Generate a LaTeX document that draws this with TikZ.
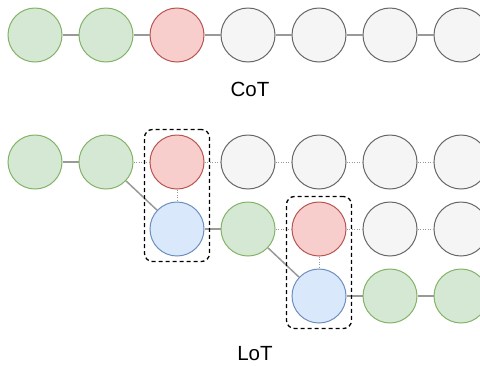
\documentclass[tikz,border=0pt]{standalone}
\usepackage{fontspec}
\setmainfont{Liberation Sans}
\usetikzlibrary{positioning}
\usetikzlibrary{fit}

\definecolor{donefill}{HTML}{D5E8D4}
\definecolor{donedraw}{HTML}{82B366}
\definecolor{nowfill}{HTML}{F8CECC}
\definecolor{nowdraw}{HTML}{B85450}
\definecolor{checkfill}{HTML}{DAE8FC}
\definecolor{checkdraw}{HTML}{6C8EBF}
\definecolor{todofill}{HTML}{F5F5F5}
\definecolor{tododraw}{HTML}{666666}

\begin{document}
\begin{tikzpicture}[x=1pt,y=-1pt,
	node distance=16pt,
	thought/.style={circle,draw,minimum size=54pt,inner sep=0pt,line width=1pt},
	done/.style={thought,fill=donefill,draw=donedraw},
	now/.style={thought,fill=nowfill,draw=nowdraw},
	check/.style={thought,fill=checkfill,draw=checkdraw},
	todo/.style={thought,fill=todofill,draw=tododraw},
	link/.style={draw=black!40,line width=1.5pt},
	hint/.style={draw=black!40,line width=1pt,dash pattern=on 1pt off 1.5pt},
	group/.style={draw,line width=1.3pt,dash pattern=on 4pt off 3pt,rounded corners=8pt,inner sep=5pt},
	label/.style={font=\fontsize{20.5}{24}\selectfont}]
	\useasboundingbox (0,0) rectangle (480,365);
	% CoT
	\node[done] (cot1) at (35,35) {};
	\node[done,right=of cot1] (cot2) {};
	\node[now,right=of cot2] (cot3) {};
	\node[todo,right=of cot3] (cot4) {};
	\node[todo,right=of cot4] (cot5) {};
	\node[todo,right=of cot5] (cot6) {};
	\node[todo,right=of cot6] (cot7) {};
	\draw[link] (cot1) -- (cot2);
	\draw[link] (cot2) -- (cot3);
	\draw[link] (cot3) -- (cot4);
	\draw[link] (cot4) -- (cot5);
	\draw[link] (cot5) -- (cot6);
	\draw[link] (cot6) -- (cot7);
	\node[label] (cotname) at (250,89) {CoT};
	% LoT
	\node[done] (lot11) at (35,162) {};
	\node[done,right=of lot11] (lot12) {};
	\node[now,right=of lot12] (lot13) {};
	\node[todo,right=of lot13] (lot14) {};
	\node[todo,right=of lot14] (lot15) {};
	\node[todo,right=of lot15] (lot16) {};
	\node[todo,right=of lot16] (lot17) {};
	\node[check,below=12pt of lot13] (lot23) {};
	\node[done,right=of lot23] (lot24) {};
	\node[now,right=of lot24] (lot25) {};
	\node[todo,right=of lot25] (lot26) {};
	\node[todo,right=of lot26] (lot27) {};
	\node[check,below=12pt of lot25] (lot35) {};
	\node[done,right=of lot35] (lot36) {};
	\node[done,right=of lot36] (lot37) {};
	\draw[link] (lot11) -- (lot12);
	\draw[hint] (lot12) -- (lot13);
	\draw[hint] (lot13) -- (lot14);
	\draw[hint] (lot14) -- (lot15);
	\draw[hint] (lot15) -- (lot16);
	\draw[hint] (lot16) -- (lot17);
	\draw[link] (lot12) -- (lot23);
	\draw[hint] (lot13) -- (lot23);
	\draw[link] (lot23) -- (lot24);
	\draw[hint] (lot24) -- (lot25);
	\draw[hint] (lot25) -- (lot26);
	\draw[hint] (lot26) -- (lot27);
	\draw[link] (lot24) -- (lot35);
	\draw[hint] (lot25) -- (lot35);
	\draw[link] (lot35) -- (lot36);
	\draw[link] (lot36) -- (lot37);
	\node[group,fit=(lot13)(lot23)] (pick1) {};
	\node[group,fit=(lot25)(lot35)] (pick2) {};
	\node[label] (lotname) at (255,354) {LoT};
\end{tikzpicture}
\end{document}
